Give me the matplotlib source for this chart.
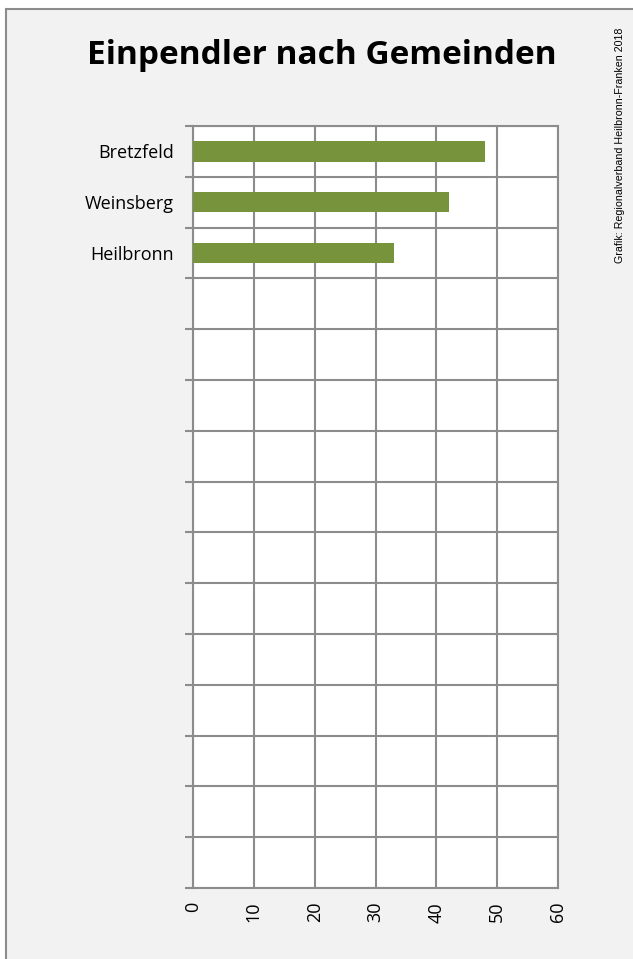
import numpy as np
import matplotlib.pyplot as plt
from matplotlib.patches import Rectangle

# data
gemeinden = ['Bretzfeld', 'Weinsberg', 'Heilbronn']
einpendler = [48, 42, 33]
n_rows = 15          # the chart reserves 15 rows, only 3 are filled
x_ticks = [0, 10, 20, 30, 40, 50, 60]

title = 'Einpendler nach Gemeinden'
source = 'Grafik: Regionalverband Heilbronn-Franken 2018'

grey = '#8c8c8c'
green = '#77933c'

fig = plt.figure(figsize=(6.33, 9.59), dpi=100)
fig.patch.set_facecolor('white')

# light grey panel with frame (cut off at the right and bottom edge)
fig.patches.append(Rectangle((5.5 / 633, -0.01), 1.0, 1 - 8.5 / 959 + 0.01,
                             transform=fig.transFigure, facecolor='#f2f2f2',
                             edgecolor=grey, linewidth=1.5, zorder=-5))

ax = fig.add_axes([193 / 633, 71 / 959, 365 / 633, 762 / 959])
ax.set_facecolor('white')

ypos = np.arange(len(gemeinden)) + 0.5
ax.barh(ypos, einpendler, height=0.4, color=green, zorder=3)

ax.set_xlim(0, 60)
ax.set_ylim(n_rows, 0)
ax.set_xticks(x_ticks)
ax.set_xticklabels([str(t) for t in x_ticks], rotation=90,
                   fontsize=13, family='Open Sans', color='black')
ax.tick_params(axis='x', length=0, pad=10)

# row boundaries carry the ticks, labels sit in the middle of the rows
ax.set_yticks(np.arange(n_rows + 1))
ax.set_yticklabels([])
ax.set_yticks(ypos, minor=True)
ax.set_yticklabels(gemeinden, minor=True, fontsize=13, family='Open Sans')
ax.tick_params(axis='y', which='major', length=6, width=1.5, color=grey,
               direction='out')
ax.tick_params(axis='y', which='minor', length=0, pad=14)

ax.grid(True, which='major', color=grey, linewidth=1.5, zorder=1)
ax.set_axisbelow(True)
for s in ax.spines.values():
    s.set_color(grey)
    s.set_linewidth(1.5)

fig.text(322 / 633, 1 - 56 / 959, title, ha='center', va='center',
         fontsize=24, fontweight='bold', family='Open Sans')
fig.text(620 / 633, 1 - 145 / 959, source, rotation=90, ha='center',
         va='center', fontsize=7.7, family='Liberation Sans')

fig.savefig('out.png', dpi=100)
